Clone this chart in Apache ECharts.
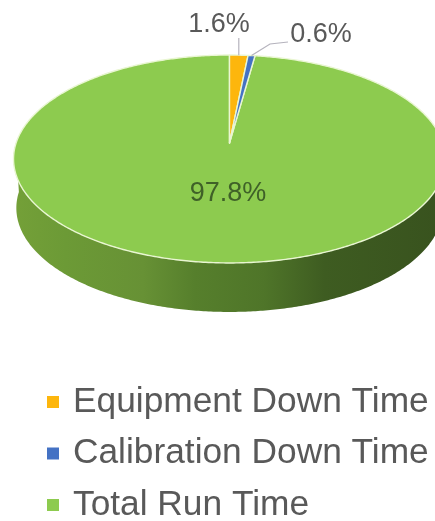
<!DOCTYPE html>
<html>
<head>
<meta charset="utf-8">
<style>html,body{margin:0;padding:0;background:#fff}#chart{width:435px;height:521px}</style>
<script src="https://cdn.jsdelivr.net/npm/echarts@6/dist/echarts.min.js"></script>
</head>
<body>
<div id="chart"></div>
<script>
// Share of plant time, in percent
const categories = ['Equipment Down Time', 'Calibration Down Time', 'Total Run Time'];
const shares = [1.6, 0.6, 97.8];
const sliceColors = ['#fdb60d', '#4472c4', '#8dcb4f'];

// Tilted-disc projection: the far side of the disc is foreshortened
const HUB = { x: 229.5, y: 143 };
const TILT = { rx: 213.4, ry: 101.5, k: 0.1538 };
const DEPTH = 49;
const TOTAL = shares.reduce((a, b) => a + b, 0);

function rim(t, scale, dy) {
  const w = 1 + TILT.k * Math.cos(t);
  return [
    HUB.x + (scale || 1) * TILT.rx * Math.sin(t) / w,
    HUB.y + (dy || 0) - TILT.ry * Math.cos(t) / w
  ];
}
function arc(t0, t1, scale, dy) {
  const n = Math.max(4, Math.ceil(Math.abs(t1 - t0) / 0.01));
  const pts = [];
  for (let i = 0; i <= n; i++) pts.push(rim(t0 + (t1 - t0) * i / n, scale, dy));
  return pts;
}
function sliceRange(idx) {
  const before = shares.slice(0, idx).reduce((a, b) => a + b, 0);
  return [before / TOTAL * Math.PI * 2, (before + shares[idx]) / TOTAL * Math.PI * 2];
}

const labelStyle = { fontFamily: 'Liberation Sans', fontSize: 27, fill: '#595959' };
const labelSpots = [
  { x: 219, y: 25, line: null },
  { x: 321, y: 35, line: [[288, 42], [270, 44]] }
];

// Wall of the disc, from the near half of the rim down to the lower rim
function wall() {
  const a = Math.PI / 2, b = Math.PI * 3 / 2;
  const pts = arc(a, b).concat(arc(b, a, 0.987, DEPTH));
  return {
    type: 'polygon',
    shape: { points: pts },
    style: {
      fill: new echarts.graphic.LinearGradient(0, 0, 1, 0, [
        { offset: 0, color: '#74a038' },
        { offset: 0.12, color: '#6c9a36' },
        { offset: 0.3, color: '#679135' },
        { offset: 0.42, color: '#567f2c' },
        { offset: 0.58, color: '#4f7529' },
        { offset: 0.72, color: '#3e5c21' },
        { offset: 1, color: '#38521e' }
      ])
    }
  };
}

function sliceItem(idx) {
  return function (params, api) {
    const value = api.value(0);
    const [t0, t1] = sliceRange(idx);
    const children = [];
    if (idx === 2) children.push(wall());
    children.push({
      type: 'polygon',
      shape: { points: [[HUB.x, HUB.y]].concat(arc(t0, t1)) },
      style: { fill: sliceColors[idx], stroke: '#e9f6d2', lineWidth: 1.4, lineJoin: 'round' }
    });
    if (idx < 2) {
      const tip = rim((t0 + t1) / 2);
      const spot = labelSpots[idx];
      const path = spot.line ? [spot.line[0], spot.line[1], tip] : [[tip[0], 38], tip];
      children.push({
        type: 'polyline',
        shape: { points: path },
        style: { fill: null, stroke: '#b5b3bd', lineWidth: 1.2 }
      });
      children.push({
        type: 'text',
        style: Object.assign({}, labelStyle, {
          text: value + '%', x: spot.x, y: spot.y, align: 'center', verticalAlign: 'middle'
        })
      });
    } else {
      children.push({
        type: 'text',
        style: Object.assign({}, labelStyle, {
          text: value + '%', x: 228, y: 194, align: 'center', verticalAlign: 'middle', fill: '#3f6128'
        })
      });
    }
    return { type: 'group', children: children };
  };
}

// The large slice goes first so the two thin slices sit on top of it
const drawOrder = [2, 0, 1];

const chart = echarts.init(document.getElementById('chart'), null, { renderer: 'canvas' });
chart.setOption({
  animation: false,
  backgroundColor: '#ffffff',
  legend: {
    orient: 'vertical',
    left: 47,
    top: 384,
    height: 150,
    padding: 0,
    data: categories,
    icon: 'rect',
    itemWidth: 12,
    itemHeight: 12,
    itemGap: 15.5,
    selectedMode: false,
    textStyle: {
      fontFamily: 'Liberation Sans',
      fontSize: 35.3,
      color: '#595959',
      lineHeight: 36,
      padding: [0, 0, 0, 9]
    }
  },
  series: drawOrder.map(idx => ({
    type: 'custom',
    name: categories[idx],
    coordinateSystem: 'none',
    silent: true,
    itemStyle: { color: sliceColors[idx] },
    data: [[shares[idx]]],
    renderItem: sliceItem(idx)
  }))
});
</script>
</body>
</html>
